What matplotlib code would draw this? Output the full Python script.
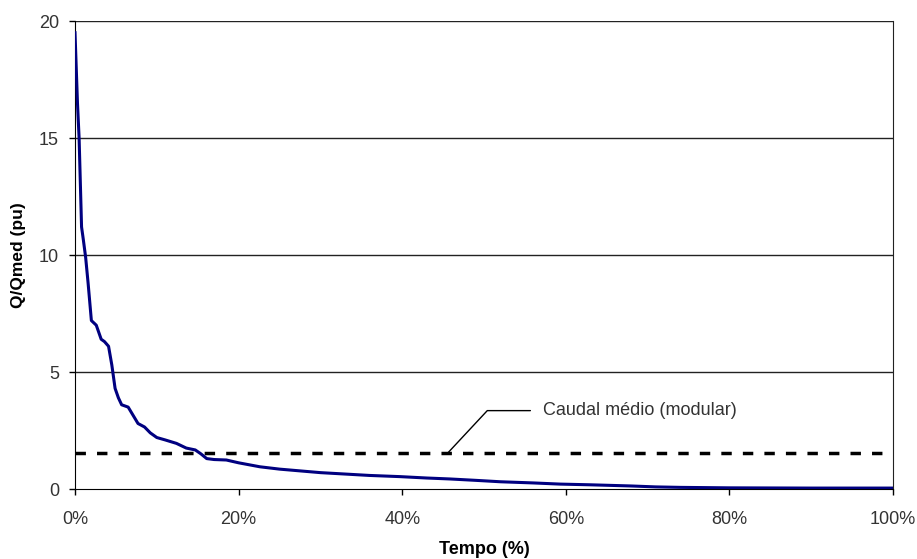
import matplotlib
matplotlib.use("Agg")
import matplotlib.pyplot as plt
from matplotlib.ticker import FuncFormatter

plt.rcParams['font.family'] = ['Liberation Sans', 'DejaVu Sans']

# Flow duration curve: time exceeded (%) vs Q/Qmed (pu)
tempo_pct = [0.0, 0.15, 0.3, 0.5, 0.8, 1.0, 1.3, 1.6, 2.0, 2.6, 3.2, 3.6, 4.1, 4.5, 4.9,
             5.3, 5.7, 6.5, 7.1, 7.7, 8.5, 9.2, 10.0, 11.0, 12.4, 13.6, 14.7, 15.4,
             16.1, 17.0, 18.5, 20.0, 22.6, 25.0, 28.0, 30.0, 33.0, 36.0, 39.7, 43.0,
             45.8, 49.0, 52.0, 56.0, 59.3, 63.0, 68.0, 71.0, 74.0, 80.0, 90.0, 100.0]
q_rel = [19.5, 18.0, 16.5, 15.0, 11.2, 10.7, 9.9, 8.8, 7.2, 7.0, 6.4, 6.3, 6.1, 5.3, 4.3,
         3.9, 3.6, 3.5, 3.15, 2.8, 2.65, 2.4, 2.2, 2.1, 1.95, 1.75, 1.67, 1.5,
         1.3, 1.26, 1.24, 1.12, 0.95, 0.85, 0.76, 0.7, 0.64, 0.58, 0.53, 0.47,
         0.43, 0.37, 0.31, 0.26, 0.21, 0.18, 0.13, 0.09, 0.07, 0.05, 0.04, 0.04]

q_med = 1.55
y_ticks = [0, 5, 10, 15, 20]
x_ticks = [0, 20, 40, 60, 80, 100]

fig = plt.figure(figsize=(9.17, 5.59), dpi=100)
ax = fig.add_axes([0.0818, 0.1252, 0.8920, 0.8372])

for y in y_ticks[1:]:
    ax.axhline(y, color='#222222', lw=1.0, zorder=1)

ax.plot(tempo_pct, q_rel, color='#000080', lw=2.2, zorder=3)
ax.axhline(q_med, color='black', lw=2.5, ls=(0, (3, 3.2)), zorder=2)

ax.set_xlim(0, 100)
ax.set_ylim(0, 20)
ax.set_xticks(x_ticks)
ax.set_yticks(y_ticks)
ax.xaxis.set_major_formatter(FuncFormatter(lambda v, p: f"{int(v)}%"))
ax.tick_params(axis='both', direction='out', length=4.5, width=1.0, color='black',
               labelsize=13, labelcolor='#333333')
ax.tick_params(axis='y', pad=7)
ax.tick_params(axis='x', pad=11)

ax.spines['top'].set_visible(False)
ax.spines['right'].set_color('#222222')
ax.spines['left'].set_color('black')
ax.spines['bottom'].set_color('black')

ax.set_xlabel('Tempo (%)', fontsize=13, fontweight='bold', labelpad=10)
ax.set_ylabel('Q/Qmed (pu)', fontsize=12.5, fontweight='bold', labelpad=9)

ax.annotate('Caudal médio (modular)', xy=(45.6, q_med), xytext=(57.2, 3.35),
            fontsize=13, color='#333333', va='center', ha='left',
            arrowprops=dict(arrowstyle='-', color='black', lw=1.0,
                            connectionstyle='angle,angleA=0,angleB=47,rad=0',
                            shrinkA=7, shrinkB=0))

fig.savefig('out.png', dpi=100)
